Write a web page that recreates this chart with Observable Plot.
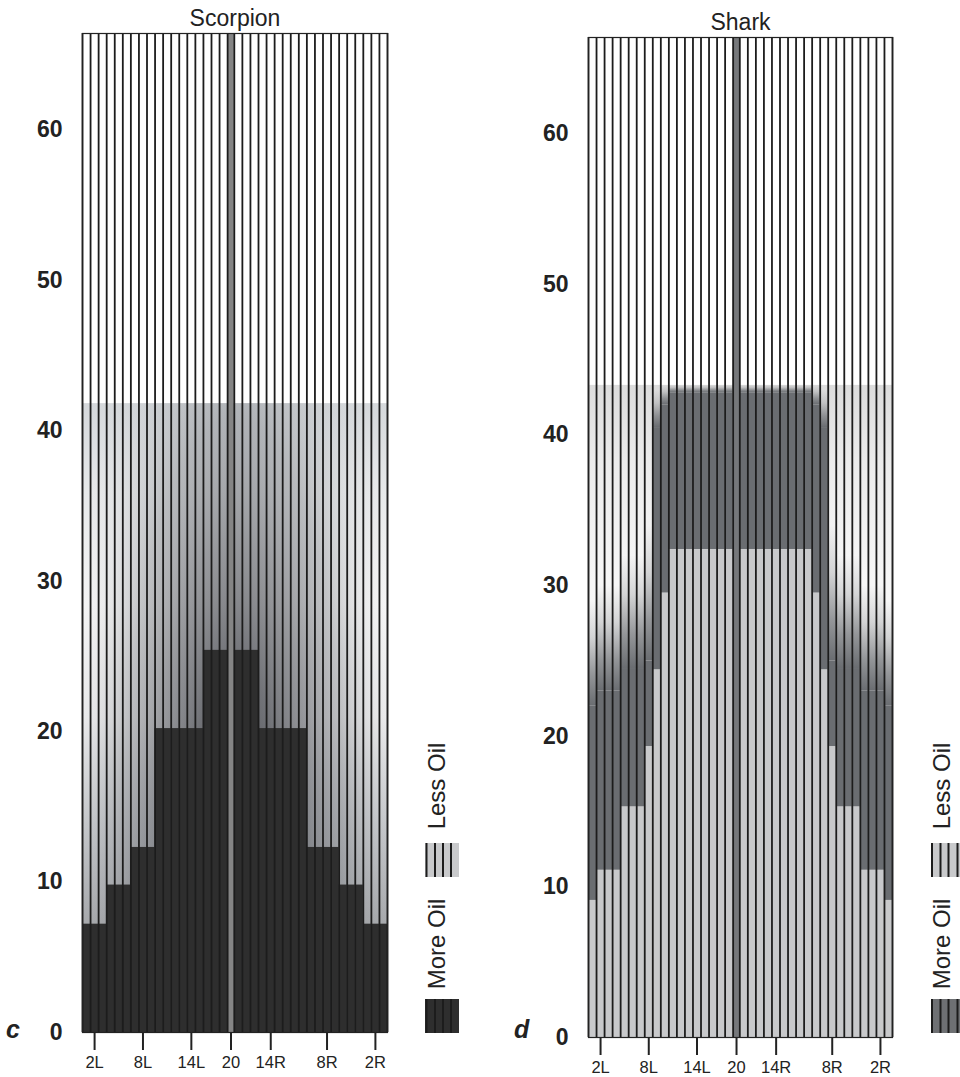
<!DOCTYPE html>
<html>
<head>
<meta charset="utf-8">
<script src="https://cdn.jsdelivr.net/npm/d3@7"></script>
<script src="https://cdn.jsdelivr.net/npm/@observablehq/plot@0.6"></script>
<style>
  html, body { margin: 0; padding: 0; background: #fff; }
  #root { position: relative; width: 960px; height: 1077px; overflow: hidden;
          font-family: "Liberation Sans", Arial, Helvetica, sans-serif; }
  .panel { position: absolute; top: 0; }
  #overlay { position: absolute; left: 0; top: 0; pointer-events: none; }
</style>
</head>
<body>
<svg width="0" height="0" style="position:absolute">
  <defs>
    <linearGradient id="scBase" x1="0" y1="0" x2="0" y2="1">
      <stop offset="0" stop-color="#d5d8db"/>
      <stop offset="0.14" stop-color="#e7e9ea"/>
      <stop offset="0.32" stop-color="#f7f7f7"/>
      <stop offset="0.5" stop-color="#efeff0"/>
      <stop offset="0.66" stop-color="#cacccf"/>
      <stop offset="0.83" stop-color="#a6a8ab"/>
      <stop offset="1" stop-color="#8e9093"/>
    </linearGradient>
    <radialGradient id="scRadial" cx="0.5" cy="0.64" r="1"
        gradientTransform="translate(0.5 0.64) scale(0.55 0.95) translate(-0.5 -0.64)">
      <stop offset="0" stop-color="#3c3d43" stop-opacity="0.9"/>
      <stop offset="0.25" stop-color="#4a4c52" stop-opacity="0.76"/>
      <stop offset="0.45" stop-color="#5a5c62" stop-opacity="0.58"/>
      <stop offset="0.65" stop-color="#6e7177" stop-opacity="0.38"/>
      <stop offset="0.85" stop-color="#9a9da2" stop-opacity="0.12"/>
      <stop offset="1" stop-color="#c0c3c6" stop-opacity="0"/>
    </radialGradient>
    <linearGradient id="shBase" x1="0" y1="0" x2="0" y2="1">
      <stop offset="0" stop-color="#dcdcdc"/>
      <stop offset="0.12" stop-color="#ececec"/>
      <stop offset="0.3" stop-color="#f7f7f7"/>
      <stop offset="1" stop-color="#f2f2f2"/>
    </linearGradient>
    <linearGradient id="shFade" x1="0" y1="0" x2="0" y2="1">
      <stop offset="0" stop-color="#6a6d71" stop-opacity="0"/>
      <stop offset="0.35" stop-color="#6a6d71" stop-opacity="0.25"/>
      <stop offset="0.7" stop-color="#6a6d71" stop-opacity="0.7"/>
      <stop offset="1" stop-color="#6a6d71" stop-opacity="1"/>
    </linearGradient>
  </defs>
</svg>
<div id="root"></div>
<script>
// ---------------- data ----------------
const leftLabels  = ["1L","2L","3L","4L","5L","6L","7L","8L","9L","10L","11L","12L","13L","14L","15L","16L","17L","18L"];
const centreLabel = "20";
const rightLabels = ["19R","18R","17R","16R","15R","14R","13R","12R","11R","10R","9R","8R","7R","6R","5R","4R","3R","2R","1R"];
const centreWidth = 0.83;   // centre strip is narrower than the other columns

// x ticks (position in column units, label)
const xTickPos    = [1.5, 7.5, 13.5, 18.42, 23.35, 30.33, 36.33];
const xTickLabels = ["2L", "8L", "14L", "20", "14R", "8R", "2R"];
const yTicks      = [0, 10, 20, 30, 40, 50, 60];
const yTop        = 66.4;

// Scorpion: "More Oil" heights (left cols from edge to centre, right cols from centre to edge)
const scorpionMoreLeft  = [7.2,7.2,7.2,9.8,9.8,9.8,12.3,12.3,12.3,20.2,20.2,20.2,20.2,20.2,20.2,25.4,25.4,25.4];
const scorpionMoreRight = [25.4,25.4,25.4,20.2,20.2,20.2,20.2,20.2,20.2,12.3,12.3,12.3,12.3,9.8,9.8,9.8,7.2,7.2,7.2];
const scorpionShadeTop  = 41.8;

// Shark: "Less Oil" heights, dark "More Oil" solid top, and top of the soft fade
const sharkLessLeft  = [9.1,11.1,11.1,11.1,15.3,15.3,15.3,19.3,24.4,29.5,32.4,32.4,32.4,32.4,32.4,32.4,32.4,32.4];
const sharkLessRight = [32.4,32.4,32.4,32.4,32.4,32.4,32.4,32.4,32.4,29.5,24.4,19.3,15.3,15.3,15.3,11.1,11.1,11.1,9.1];
const sharkMoreLeft  = [22,23,23,23,24.5,24.5,24.5,25,40.5,42,42.8,42.8,42.8,42.8,42.8,42.8,42.8,42.8];
const sharkMoreRight = [42.8,42.8,42.8,42.8,42.8,42.8,42.8,42.8,42.8,42,40.5,25,24.5,24.5,24.5,23,23,23,22];
const sharkFadeLeft  = [29,30,30,30,32,32,32,34,43,43.3,43.3,43.3,43.3,43.3,43.3,43.3,43.3,43.3];
const sharkFadeRight = [43.3,43.3,43.3,43.3,43.3,43.3,43.3,43.3,43.3,43.3,43,34,32,32,32,30,30,30,29];
const sharkShadeTop  = 43.3;

// ---------------- layout helpers ----------------
const FONT = '"Liberation Sans", Arial, Helvetica, sans-serif';
const nL = leftLabels.length;
const columns = [
  ...leftLabels.map((label, i) => ({label, side: "L", k: i, x1: i, x2: i + 1})),
  {label: centreLabel, side: "C", k: 0, x1: nL, x2: nL + centreWidth},
  ...rightLabels.map((label, j) => ({label, side: "R", k: j, x1: nL + centreWidth + j, x2: nL + centreWidth + j + 1}))
];
const xMax = columns[columns.length - 1].x2;
const boundaries = Array.from(new Set(columns.flatMap(c => [c.x1, c.x2])));
const centre = columns.filter(c => c.side === "C");
const pick = (c, left, right) => c.side === "L" ? left[c.k] : c.side === "R" ? right[c.k] : null;
const tickLabelOf = new Map(xTickPos.map((p, i) => [p, xTickLabels[i]]));

const scorpionData = columns.filter(c => c.side !== "C").map(c => ({...c, more: pick(c, scorpionMoreLeft, scorpionMoreRight)}));
const sharkData = columns.filter(c => c.side !== "C").map(c => ({
  ...c,
  less: pick(c, sharkLessLeft, sharkLessRight),
  more: pick(c, sharkMoreLeft, sharkMoreRight),
  fade: pick(c, sharkFadeLeft, sharkFadeRight)
}));
const band = top => [{x1: columns[0].x1, x2: xMax, top}];

function commonMarks(title, centreFill) {
  return [
    Plot.rect(centre, {x1: "x1", x2: "x2", y1: () => 0, y2: () => yTop, fill: centreFill}),
    Plot.ruleX(boundaries, {y1: () => 0, y2: () => yTop, stroke: "#1c1c1c", strokeWidth: 1.8}),
    Plot.frame({stroke: "#222", strokeWidth: 1.2}),
    Plot.axisY(yTicks, {label: null, tickSize: 0, tickPadding: 20, fontSize: 23, fontWeight: "bold", fill: "#222"}),
    Plot.axisX(xTickPos, {label: null, tickSize: 18, tickPadding: 6, fontSize: 16.5, strokeWidth: 2, stroke: "#222", fill: "#222",
                          tickFormat: d => tickLabelOf.get(d)}),
    Plot.text([title], {text: d => d, frameAnchor: "top", lineAnchor: "bottom", dy: -8, fontSize: 23, fill: "#222"})
  ];
}

const scorpion = Plot.plot({
  width: 480, height: 1077,
  marginLeft: 82, marginRight: 93, marginTop: 33, marginBottom: 45,
  x: {domain: [0, xMax], axis: null},
  y: {domain: [0, yTop], axis: null},
  style: {fontFamily: FONT, background: "transparent", overflow: "visible"},
  marks: [
    Plot.rect(band(scorpionShadeTop), {x1: "x1", x2: "x2", y1: () => 0, y2: "top", fill: "url(#scBase)"}),
    Plot.rect(band(scorpionShadeTop), {x1: "x1", x2: "x2", y1: () => 0, y2: "top", fill: "url(#scRadial)"}),
    Plot.rect(scorpionData, {x1: "x1", x2: "x2", y1: () => 0, y2: "more", fill: "#2e2e2e"}),
    ...commonMarks("Scorpion", "#858585")
  ]
});

const shark = Plot.plot({
  width: 480, height: 1077,
  marginLeft: 108, marginRight: 68, marginTop: 37, marginBottom: 40,
  x: {domain: [0, xMax], axis: null},
  y: {domain: [0, yTop], axis: null},
  style: {fontFamily: FONT, background: "transparent", overflow: "visible"},
  marks: [
    Plot.rect(band(sharkShadeTop), {x1: "x1", x2: "x2", y1: () => 0, y2: "top", fill: "url(#shBase)"}),
    Plot.rect(sharkData, {x1: "x1", x2: "x2", y1: "more", y2: "fade", fill: "url(#shFade)"}),
    Plot.rect(sharkData, {x1: "x1", x2: "x2", y1: "less", y2: "more", fill: "#6a6d71"}),
    Plot.rect(sharkData, {x1: "x1", x2: "x2", y1: () => 0, y2: "less", fill: "#c8c9cb"}),
    ...commonMarks("Shark", "#76787b")
  ]
});

const root = document.getElementById("root");
scorpion.classList.add("panel"); scorpion.style.left = "0px";
shark.classList.add("panel"); shark.style.left = "480px";
root.appendChild(scorpion);
root.appendChild(shark);

// ---------------- legends & panel letters ----------------
const ov = d3.select(root).append("svg").attr("id", "overlay").attr("width", 960).attr("height", 1077)
  .style("font-family", FONT);

function legend(x0, stripeXs, lessFill, moreFill, moreStripe, textX, swW) {
  const g = ov.append("g");
  g.append("text").attr("transform", `translate(${textX},786) rotate(-90)`).attr("text-anchor", "middle")
    .attr("font-size", 24).attr("fill", "#222").text("Less Oil");
  g.append("rect").attr("x", x0).attr("y", 843).attr("width", swW).attr("height", 34).attr("fill", lessFill);
  stripeXs.forEach(sx => g.append("line").attr("x1", sx).attr("x2", sx).attr("y1", 843).attr("y2", 877)
    .attr("stroke", "#1c1c1c").attr("stroke-width", 2));
  g.append("text").attr("transform", `translate(${textX},944) rotate(-90)`).attr("text-anchor", "middle")
    .attr("font-size", 24).attr("fill", "#222").text("More Oil");
  g.append("rect").attr("x", x0).attr("y", 999).attr("width", swW).attr("height", 34).attr("fill", moreFill);
  stripeXs.forEach(sx => g.append("line").attr("x1", sx).attr("x2", sx).attr("y1", 999).attr("y2", 1033)
    .attr("stroke", moreStripe).attr("stroke-width", 2));
}
legend(425, [426.5, 435, 443, 451], "#c8c9cb", "#2e2e2e", "#1c1c1c", 445, 34);
legend(931, [932, 940.5, 948.5, 957.5], "#c8c9cb", "#6e7073", "#1c1c1c", 950, 40);

ov.append("text").attr("x", 6).attr("y", 1038).attr("font-size", 25).attr("font-weight", "bold")
  .attr("font-style", "italic").attr("fill", "#222").text("c");
ov.append("text").attr("x", 514).attr("y", 1038).attr("font-size", 25).attr("font-weight", "bold")
  .attr("font-style", "italic").attr("fill", "#222").text("d");
</script>
</body>
</html>
